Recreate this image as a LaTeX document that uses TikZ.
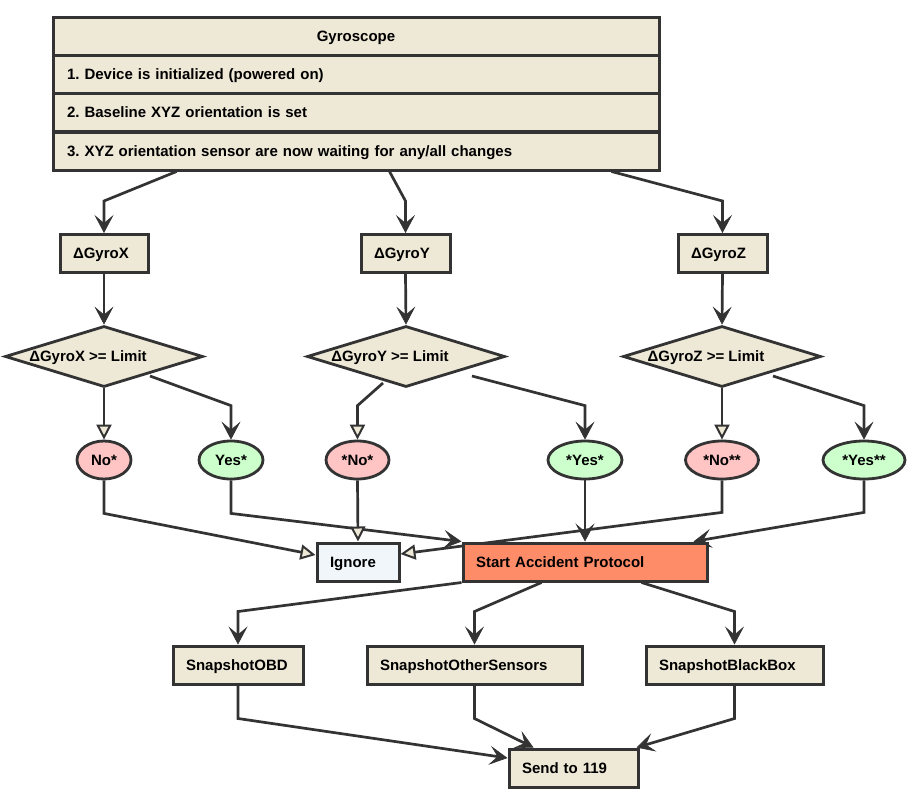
\documentclass[tikz,border=0pt]{standalone}
\usepackage{fontspec}
\setmainfont{Liberation Sans}
\usetikzlibrary{shapes.geometric,arrows.meta,backgrounds}
\definecolor{bg}{RGB}{238,232,214}
\definecolor{ln}{RGB}{51,51,51}
\definecolor{ignbg}{RGB}{240,246,250}
\definecolor{startbg}{RGB}{255,140,105}
\definecolor{nobg}{RGB}{255,196,196}
\definecolor{yesbg}{RGB}{204,255,204}
\frenchspacing
\tikzset{
  every node/.style={font=\fontsize{15}{17}\selectfont\bfseries, text=black, text height=10.8pt, text depth=0pt},
  box/.style={draw=ln, line width=3pt, fill=bg, rectangle, minimum height=38, inner xsep=0, inner ysep=0},
  row/.style={box, minimum width=606, text width=578, align=left},
  lbox/.style={box, minimum width=#1, text width=#1-26, align=left},
  dia/.style={draw=ln, line width=2.8pt, fill=bg, diamond, minimum width=198, minimum height=61, inner sep=0},
  oval/.style={draw=ln, line width=2.8pt, ellipse, minimum width=#1, minimum height=38, inner sep=0},
  conn/.style={draw=ln, line width=2.7pt},
  varrow/.style={conn, -{Stealth[length=18pt,width=19pt,inset=8pt,line width=0.6pt]}},
  tarrow/.style={conn, -{Triangle[length=15pt,width=15pt,fill=bg,line width=2pt]}},
}
\begin{document}
\begin{tikzpicture}[x=1pt,y=-1pt]
\useasboundingbox (0,0) rectangle (921,804);
% top table
\node[row, align=center] (gyro) at (356,36) {Gyroscope};
\node[row] (g1) at (356,74) {1. Device is initialized (powered on)};
\node[row] (g2) at (356,112.5) {2. Baseline XYZ orientation is set};
\node[row] (g3) at (356,151) {3. XYZ orientation sensor are now waiting for any/all changes};
% deltas
\node[lbox=88] (gx) at (104,253.5) {ΔGyroX};
\node[lbox=89] (gy) at (405.5,253.5) {ΔGyroY};
\node[lbox=89] (gz) at (722.5,253.5) {ΔGyroZ};
% diamonds
\node[dia] (dx) at (104,356.5) {};
\node[dia] (dy) at (406,356.5) {};
\node[dia] (dz) at (722,356.5) {};
\node (dxt) at ([xshift=-16]dx.center) {ΔGyroX >= Limit};
\node (dyt) at ([xshift=-16]dy.center) {ΔGyroY >= Limit};
\node (dzt) at ([xshift=-16]dz.center) {ΔGyroZ >= Limit};
% ovals
\node[oval=54, fill=nobg] (nx) at (104,460) {No*};
\node[oval=64, fill=yesbg] (yx) at (231,460) {Yes*};
\node[oval=63, fill=nobg] (ny) at (357.5,460) {*No*};
\node[oval=74, fill=yesbg] (yy) at (585,460) {*Yes*};
\node[oval=73, fill=nobg] (nz) at (722,460) {*No**};
\node[oval=82, fill=yesbg] (yz) at (864,460) {*Yes**};
% middle
\node[lbox=82, fill=ignbg] (ign) at (358,562) {Ignore};
\node[lbox=244, fill=startbg] (start) at (585,562) {Start Accident Protocol};
% snapshots
\node[lbox=130] (sobd) at (238,665) {SnapshotOBD};
\node[lbox=215] (soth) at (474.5,665) {SnapshotOtherSensors};
\node[lbox=177] (sbb) at (734.5,665) {SnapshotBlackBox};
\node[lbox=129] (send) at (573.5,768) {Send to 119};
% connectors
\begin{pgfonlayer}{background}
\fill[white] (0,0) rectangle (921,804);
\draw[varrow] ([xshift=125]g3.south west) -- ([yshift=32]gx.north) -- (gx.north);
\draw[varrow] ([xshift=338]g3.south west) -- ([yshift=32]gy.north) -- (gy.north);
\draw[varrow] ([xshift=560]g3.south west) -- ([yshift=32]gz.north) -- (gz.north);
\draw[varrow] (gx.south) -- (dx.north);
\draw[varrow] (gy.south) -- (dy.north);
\draw[varrow] (gz.south) -- (dz.north);
\draw[tarrow] (dx.south) -- (nx.north);
\draw[varrow] ([xshift=46,yshift=-19.5]dx.center) -- ([yshift=34]yx.north) -- (yx.north);
\draw[tarrow] ([xshift=-23,yshift=-26.5]dy.center) -- ([yshift=34]ny.north) -- (ny.north);
\draw[varrow] ([xshift=66,yshift=-19.5]dy.center) -- ([yshift=34]yy.north) -- (yy.north);
\draw[tarrow] (dz.south) -- (nz.north);
\draw[varrow] ([xshift=51,yshift=-19.5]dz.center) -- ([yshift=34]yz.north) -- (yz.north);
\draw[tarrow] (nx.south) -- ([yshift=-33]nx.south) -- ([yshift=7]ign.west);
\draw[varrow] (yx.south) -- ([yshift=-33]yx.south) -- (start.north west);
\draw[tarrow] (ny.south) -- (ign.north);
\draw[varrow] (yy.south) -- (start.north);
\draw[tarrow] (nz.south) -- ([yshift=-32]nz.south) -- ([yshift=8]ign.east);
\draw[varrow] (yz.south) -- ([yshift=-32]yz.south) -- ([xshift=-15]start.north east);
\draw[varrow] (start.south west) -- ([yshift=33]sobd.north) -- (sobd.north);
\draw[varrow] ([xshift=80]start.south west) -- ([yshift=33]soth.north) -- (soth.north);
\draw[varrow] ([xshift=180]start.south west) -- ([yshift=33]sbb.north) -- (sbb.north);
\draw[varrow] (sobd.south) -- ([yshift=-33]sobd.south) -- ([yshift=10]send.west);
\draw[varrow] (soth.south) -- ([yshift=-33]soth.south) -- ([xshift=26]send.north west);
\draw[varrow] (sbb.south) -- ([yshift=-33]sbb.south) -- ([xshift=-3]send.north east);
\end{pgfonlayer}
\end{tikzpicture}
\end{document}
